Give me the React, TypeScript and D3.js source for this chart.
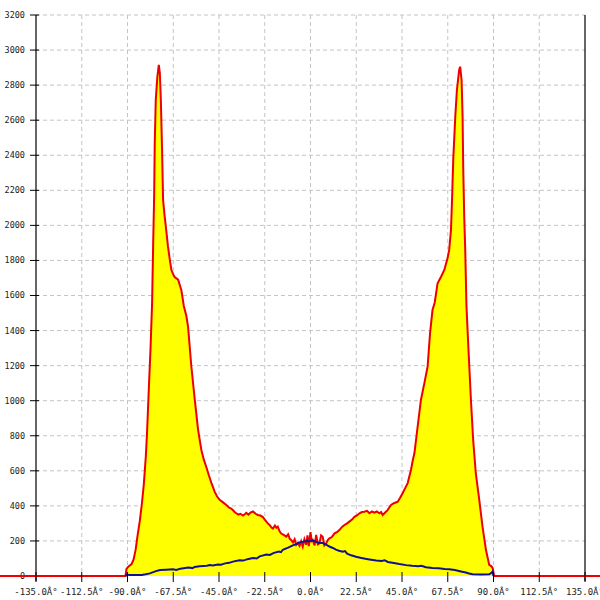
import React from 'react';
import * as d3 from 'd3';

// angle (deg) / count pairs
const redAngles = [
  -180, -91, -90.5, -89.5, -88, -87, -86, -85, -84, -83, -82, -81, -80.4, -79.4, -78.7, -77.9,
  -77.4, -76.9, -76.6, -76.1, -75.3, -74.6, -74.1, -73.6, -73.0, -72.5, -71.8, -71.3, -70.1,
  -69.2, -68.4, -67.5, -66.8, -65.1, -63.5, -62.3, -61.0, -60.2, -58.6, -56.9, -55.3, -53.7,
  -52.5, -51.2, -50, -48.7, -47.1, -46, -44.7, -43, -41.4, -40, -39, -38.1, -37.3, -36.5, -35.5,
  -34.5, -33.2, -32.3, -31.6, -30.5, -29.5, -28.3, -27, -25.9, -24.7, -23.4, -22.3, -21.0, -20,
  -19.2, -18.5, -17.5, -16.8, -16.1, -15.2, -14.4, -13.2, -11.9, -11.0, -10.2, -9.5, -8.6, -7.8,
  -7.0, -6.2, -5.4, -4.6, -3.8, -3.0, -2.1, -1.5, -0.8, 0, 0.6, 1.1, 2.0, 2.8, 3.6, 4.4, 5.2,
  6.0, 6.8, 7.7, 8.5, 9.3, 10.5, 11.8, 13, 14.2, 15.5, 16.7, 18, 19.1, 20.4, 21.6, 22.8, 24.1,
  25.3, 26.5, 27.8, 29.0, 30.2, 31.4, 32.6, 33.9, 34.7, 35.5, 36.7, 37.9, 39.6, 41, 42.9, 44,
  45.3, 46.5, 47.8, 49.4, 50.3, 51.1, 51.9, 52.7, 54.3, 56.0, 57.6, 58.8, 60.0, 61.1, 62.5,
  64.2, 65.8, 67.4, 68.2, 69.1, 69.6, 70.2, 71.2, 72.0, 73.1, 73.6, 74.3, 74.8, 75.1, 75.6,
  76.1, 76.7, 77.7, 78.9, 80.0, 81.3, 83.0, 84.6, 86.3, 87.9, 89.0, 89.6, 90.3, 180,
];
const redCounts = [
  0, 0, 40, 55, 68, 95, 150, 235, 310, 405, 520, 680, 815, 1100, 1290, 1560,
  1880, 2165, 2470, 2715, 2850, 2915, 2870, 2715, 2430, 2145, 2060, 2010, 1880,
  1805, 1745, 1720, 1705, 1690, 1630, 1540, 1480, 1420, 1195, 1005, 835, 720,
  665, 620, 575, 530, 480, 455, 435, 420, 405, 390, 385, 375, 365, 358, 350,
  355, 345, 352, 360, 350, 362, 368, 355, 348, 345, 336, 318, 300, 290,
  276, 270, 288, 275, 282, 255, 242, 235, 225, 238, 212, 205, 192, 210,
  178, 188, 172, 198, 168, 210, 178, 232, 170, 250, 200, 205, 175, 234, 180, 186, 232,
  224, 175, 186, 205, 215, 222, 243, 250, 262, 280, 291, 300, 310, 322, 338, 345, 358,
  365, 367, 372, 358, 368, 361, 368, 358, 365, 348, 362, 376, 405, 415, 424, 445,
  472, 500, 530, 605, 660, 700, 776, 852, 1004, 1100, 1195, 1385, 1517, 1560, 1670,
  1707, 1746, 1812, 1860, 1975, 2145, 2375, 2620, 2772, 2886, 2905, 2830, 2620, 2335, 2050,
  1860, 1540, 1290, 1004, 776, 586, 434, 281, 148, 63, 55, 45, 0, 0,
];

const blueAngles = [
  -90.8, -90.5, -89, -86, -83, -81, -79, -76, -74, -71, -67.6, -66, -64, -60, -58, -57, -54.5, -51,
  -49.5, -48, -45.5, -44, -42, -40, -38.1, -35, -33, -31, -28.3, -26.5, -25, -21.7, -20, -18,
  -15.5, -14.5, -13.6, -11, -8.7, -7, -5.4, -3.5, -2, -0.5, 1, 2.5, 4, 6, 7.5, 9.3, 11, 12.5, 14,
  15.9, 17, 18, 20, 22.4, 25, 27, 29, 32.3, 35, 36.5, 38, 41, 43.7, 47, 50, 53, 54.5, 56.8, 60,
  63, 66, 68.2, 71, 74, 76.4, 78, 79.7, 84, 87.9, 89.0, 89.5, 90.0,
];
const blueCounts = [
  0, 8, 6, 5, 6, 10, 15, 28, 34, 36, 38, 35, 42, 48, 45, 52, 55, 58,
  63, 60, 66, 64, 72, 75, 82, 90, 88, 96, 103, 100, 112, 122, 120, 132,
  140, 136, 150, 162, 175, 182, 192, 196, 200, 198, 204, 196, 190, 188, 180, 168, 160, 150, 144,
  138, 142, 128, 118, 110, 103, 98, 94, 88, 86, 90, 80, 74, 68, 62, 58, 55, 58, 50, 46,
  44, 40, 38, 34, 26, 20, 14, 10, 9, 10, 18, 25, 0,
];

const xTicks = [-135, -112.5, -90, -67.5, -45, -22.5, 0, 22.5, 45, 67.5, 90, 112.5, 135];
const yTicks = d3.range(0, 3201, 200);

const W = 600;
const H = 600;
const left = 36;
const right = 585;
const top = 15;
const bottom = 576;

export default function App() {
  const x = d3.scaleLinear().domain([-135, 135]).range([left, right]);
  const y = d3.scaleLinear().domain([0, 3200]).range([bottom, top]);

  const red = redAngles.map((a, i) => [a, redCounts[i]] as [number, number]);
  const blue = blueAngles.map((a, i) => [a, blueCounts[i]] as [number, number]);

  const area = d3.area<[number, number]>()
    .x(d => x(d[0]))
    .y0(y(0))
    .y1(d => y(d[1]));
  const line = d3.line<[number, number]>()
    .x(d => x(d[0]))
    .y(d => y(d[1]));

  const font = '"DejaVu Sans Mono", monospace';

  return (
    <div style={{ position: 'absolute', left: 0, top: 0 }}>
      <svg width={W} height={H} style={{ display: 'block', background: '#fff' }}>
        {/* grid */}
        {yTicks.filter(t => t > 0).map(t => (
          <line key={'gy' + t} x1={left} x2={right} y1={y(t)} y2={y(t)}
            stroke="#c4c4c4" strokeDasharray="4,3" />
        ))}
        {xTicks.filter(t => t > -135 && t < 135).map(t => (
          <line key={'gx' + t} x1={x(t)} x2={x(t)} y1={top} y2={bottom}
            stroke="#c4c4c4" strokeDasharray="4,3" />
        ))}

        {/* axes */}
        <line x1={left} x2={left} y1={top} y2={bottom + 5} stroke="#000" strokeWidth={1.2} />
        <line x1={right} x2={right} y1={top} y2={bottom + 5} stroke="#000" strokeWidth={1.2} />
        {yTicks.map(t => (
          <g key={'ty' + t}>
            <line x1={left - 6} x2={left + 3} y1={y(t)} y2={y(t)} stroke="#000" />
            <text x={left - 11} y={y(t)} dy="0.35em" textAnchor="end"
              fontFamily={font} fontSize={8.5} fill="#222">{t}</text>
          </g>
        ))}

        <path d={area(red) ?? ''} fill="#ffff00" />
        <path d={line(red) ?? ''} fill="none" stroke="#ee0000" strokeWidth={2} />
        <path d={line(blue) ?? ''} fill="none" stroke="#101090" strokeWidth={2} />

        {xTicks.map(t => (
          <g key={'tx' + t}>
            <line x1={x(t)} x2={x(t)} y1={bottom - 4} y2={bottom + 6} stroke="#000" />
            <text x={x(t)} y={592} dy="0.35em" textAnchor="middle"
              fontFamily={font} fontSize={9} fill="#222">{`${t.toFixed(1)}Â°`}</text>
          </g>
        ))}
      </svg>
    </div>
  );
}
